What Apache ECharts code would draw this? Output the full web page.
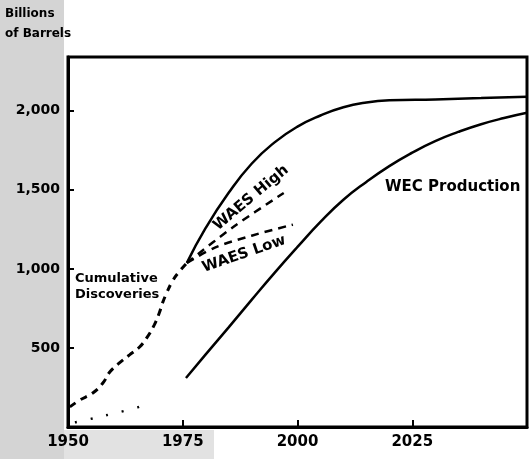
<!DOCTYPE html>
<html>
<head>
<meta charset="utf-8">
<script src="https://cdn.jsdelivr.net/npm/echarts@6/dist/echarts.min.js"></script>
<style>
html,body{margin:0;padding:0;background:#fff;}
#chart{width:530px;height:459px;}
</style>
</head>
<body>
<div id="chart"></div>
<script>
// ---- data (billions of barrels) ----
const xTicks = [1950, 1975, 2000, 2025];
const yTicks = [0, 500, 1000, 1500, 2000];
const discoveries = [[1950.4,127],[1952.6,171],[1955.4,215],[1957.6,278],[1959.1,348],[1961.2,405],[1963.4,456],[1965.6,506],[1967.3,570],[1968.8,646],[1969.9,722],[1970.6,785],[1971.5,848],[1972.8,925],[1974.3,985],[1975.9,1038]];
const histProduction = [[1951.5,30],[1952.6,36],[1959.5,82],[1963.2,108],[1964.6,118],[1966.0,133]];
const upperCurve = [[1975.9,1038],[1980,1259],[1985,1481],[1990,1665],[1995,1800],[2000,1900],[2005,1970],[2010,2022],[2015,2052],[2020,2066],[2030,2072],[2040,2080],[2050,2089]];
const wecProduction = [[1975.7,310],[1980,459],[1985,630],[1990,804],[1995,975],[2000,1139],[2005,1297],[2010,1437],[2015,1550],[2020,1650],[2025,1735],[2030,1808],[2035,1866],[2040,1915],[2045,1954],[2050,1987]];
const waesHigh = [[1975.9,1038],[1986,1265],[1997,1480]];
const waesLow = [[1975.9,1038],[1982,1135],[1990,1210],[1999,1280]];

const FONT = 'DejaVu Sans';
const chart = echarts.init(document.getElementById('chart'), null, {renderer:'canvas'});
const lineBase = {type:'line', showSymbol:false, symbol:'none', silent:true};
chart.setOption({
  animation:false,
  backgroundColor:'#fff',
  grid:{left:68, right:-2, top:57, bottom:32, show:true, borderColor:'#000', borderWidth:3},
  xAxis:{type:'value', min:1950, max:2050, interval:25,
    axisLine:{lineStyle:{color:'#000', width:3}},
    axisTick:{inside:true, length:7, lineStyle:{color:'#000', width:2}},
    axisLabel:{color:'#000', fontFamily:FONT, fontWeight:'bold', fontSize:15, margin:8,
      formatter:v=> xTicks.includes(v) ? String(v) : ''},
    splitLine:{show:false}},
  yAxis:{type:'value', min:0, max:2340, interval:500,
    axisLine:{show:true, lineStyle:{color:'#000', width:3}},
    axisTick:{inside:true, length:6, lineStyle:{color:'#000', width:2}},
    axisLabel:{color:'#000', fontFamily:FONT, fontWeight:'bold', fontSize:14, margin:8,
      formatter:v=> yTicks.includes(v) && v>0 ? v.toLocaleString('en-US') : ''},
    splitLine:{show:false}},
  series:[
    Object.assign({}, lineBase, {name:'Cumulative Discoveries', data:discoveries, smooth:0.4,
      lineStyle:{color:'#000', width:3, type:[7,6]}}),
    Object.assign({}, lineBase, {name:'Historical production', data:histProduction, smooth:true,
      lineStyle:{color:'#000', width:2.5, type:[2,14]}}),
    Object.assign({}, lineBase, {name:'Upper', data:upperCurve, smooth:0.5,
      lineStyle:{color:'#000', width:2.5}}),
    Object.assign({}, lineBase, {name:'WEC Production', data:wecProduction, smooth:0.5,
      lineStyle:{color:'#000', width:2.5}}),
    Object.assign({}, lineBase, {name:'WAES High', data:waesHigh, smooth:0.3,
      lineStyle:{color:'#000', width:2.5, type:[8,6]}}),
    Object.assign({}, lineBase, {name:'WAES Low', data:waesLow, smooth:0.3,
      lineStyle:{color:'#000', width:2.5, type:[8,6]}})
  ],
  graphic:[
    {type:'rect', z:-10, silent:true, shape:{x:0, y:0, width:64, height:459}, style:{fill:'#d4d4d4'}},
    {type:'rect', z:-10, silent:true, shape:{x:64, y:430, width:150, height:29}, style:{fill:'#e2e2e2'}},
    {type:'text', left:5, top:4, style:{text:'Billions\nof Barrels', font:'bold 12px '+FONT, fill:'#000', lineHeight:20}},
    {type:'text', x:75, y:271, style:{text:'Cumulative\nDiscoveries', font:'bold 13px '+FONT, fill:'#000', lineHeight:16}},
    {type:'text', x:251, y:198, rotation:40*Math.PI/180, style:{text:'WAES High', font:'bold 15px '+FONT, fill:'#000', align:'center', verticalAlign:'middle'}},
    {type:'text', x:244, y:254, rotation:19*Math.PI/180, style:{text:'WAES Low', font:'bold 15px '+FONT, fill:'#000', align:'center', verticalAlign:'middle'}},
    {type:'text', x:385, y:180, style:{text:'WEC Production', font:'bold 15px '+FONT, fill:'#000'}}
  ]
});
</script>
</body>
</html>
